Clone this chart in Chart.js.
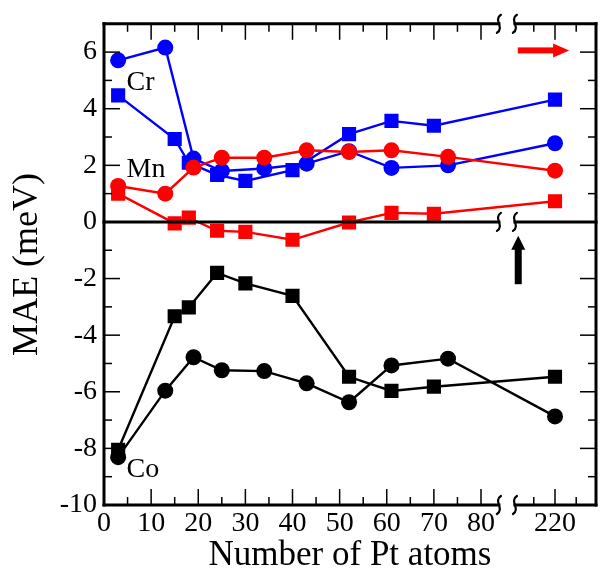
<!DOCTYPE html>
<html>
<head>
<meta charset="utf-8">
<script src="https://cdn.jsdelivr.net/npm/chart.js"></script>
<style>
  html, body { margin: 0; padding: 0; background: #fff; }
  #wrap { width: 606px; height: 573px; }
</style>
</head>
<body>
<div id="wrap"><canvas id="chartMAE"></canvas></div>
<script>
// Pt atom counts (the last one sits after the axis break)
const ptCircle = [3, 13, 19, 25, 34, 43, 52, 61, 73, 220];
const ptSquare = [3, 15, 18, 24, 30, 40, 52, 61, 70, 220];

// MAE (meV)
const crCircle = [5.71, 6.16, 2.24, 1.80, 1.89, 2.06, 2.50, 1.91, 2.00, 2.78];
const crSquare = [4.47, 2.93, 2.09, 1.66, 1.45, 1.83, 3.10, 3.57, 3.40, 4.32];
const mnCircle = [1.27, 1.00, 1.92, 2.27, 2.27, 2.53, 2.47, 2.53, 2.30, 1.81];
const mnSquare = [1.00, -0.05, 0.15, -0.31, -0.35, -0.63, -0.02, 0.32, 0.29, 0.73];
const coCircle = [-8.31, -5.96, -4.78, -5.24, -5.27, -5.70, -6.37, -5.07, -4.83, -6.87];
const coSquare = [-8.05, -3.33, -3.02, -1.80, -2.17, -2.61, -5.47, -5.97, -5.82, -5.47];

// tick labels
const xTickLabels = [0, 10, 20, 30, 40, 50, 60, 70, 80, 220];
const xMinorLabels = [5, 15, 25, 35, 45, 55, 65, 75, 210, 230];
const yTickLabels = [-10, -8, -6, -4, -2, 0, 2, 4, 6];

// broken x axis: 0..85 linear, then 220 placed near the right edge
const breakAt = 85.5;
function axisX(n) {
  return n <= breakAt ? n : 95.7 + (n - 220) * 0.45;
}

function pts(xs, ys) {
  return xs.map((x, i) => ({ x: axisX(x), y: ys[i] }));
}

function series(label, xs, ys, color, style, order) {
  return {
    label,
    data: pts(xs, ys),
    showLine: true,
    borderColor: color,
    backgroundColor: color,
    borderWidth: 2.4,
    pointStyle: style,
    pointRadius: style === 'rect' ? 10 : 8,
    pointHoverRadius: style === 'rect' ? 10 : 8,
    pointBorderWidth: 0,
    order
  };
}

const serif = "'Liberation Serif', 'DejaVu Serif', serif";

// frame, inward ticks, zero line, axis breaks, labels and arrows
const decor = {
  id: 'decor',
  afterDatasetsDraw(chart) {
    const { ctx, chartArea: a, scales: { x, y } } = chart;
    ctx.save();
    ctx.strokeStyle = '#000';
    ctx.fillStyle = '#000';

    // ticks
    ctx.lineWidth = 1.5;
    const tick = (x1, y1, x2, y2) => { ctx.beginPath(); ctx.moveTo(x1, y1); ctx.lineTo(x2, y2); ctx.stroke(); };
    xTickLabels.forEach(v => {
      const px = x.getPixelForValue(axisX(v));
      tick(px, a.bottom, px, a.bottom - 16);
      tick(px, a.top, px, a.top + 16);
    });
    xMinorLabels.forEach(v => {
      const px = x.getPixelForValue(axisX(v));
      tick(px, a.bottom, px, a.bottom - 8);
      tick(px, a.top, px, a.top + 8);
    });
    for (let v = -10; v <= 7; v++) {
      const py = y.getPixelForValue(v);
      const len = v % 2 === 0 ? 16 : 8;
      tick(a.left, py, a.left + len, py);
      tick(a.right, py, a.right - len, py);
    }

    // frame and zero line, each broken at the axis break
    const bx = x.getPixelForValue(breakAt);
    const gap = 8;
    const hline = (py, w) => {
      ctx.lineWidth = w;
      ctx.beginPath();
      ctx.moveTo(a.left, py); ctx.lineTo(bx - gap, py);
      ctx.moveTo(bx + gap, py); ctx.lineTo(a.right, py);
      ctx.stroke();
    };
    ctx.lineCap = 'square';
    hline(a.top, 3);
    hline(a.bottom, 3);
    hline(y.getPixelForValue(0), 3);
    ctx.lineWidth = 3;
    ctx.beginPath();
    ctx.moveTo(a.left, a.top); ctx.lineTo(a.left, a.bottom);
    ctx.moveTo(a.right, a.top); ctx.lineTo(a.right, a.bottom);
    ctx.stroke();

    // break squiggles
    ctx.lineCap = 'round';
    ctx.lineWidth = 2.2;
    const squiggle = (cx, cy) => {
      ctx.beginPath();
      ctx.moveTo(cx + 2, cy - 9);
      ctx.bezierCurveTo(cx - 6, cy - 4, cx + 6, cy + 4, cx - 2, cy + 9);
      ctx.stroke();
    };
    [a.top, y.getPixelForValue(0), a.bottom].forEach(py => {
      squiggle(bx - gap, py);
      squiggle(bx + gap, py);
    });

    // element labels
    ctx.font = '28px ' + serif;
    ctx.textBaseline = 'alphabetic';
    ctx.textAlign = 'left';
    const lx = x.getPixelForValue(4.8);
    ctx.fillText('Cr', lx, y.getPixelForValue(4.67));
    ctx.fillText('Mn', lx, y.getPixelForValue(1.58));
    ctx.fillText('Co', lx, y.getPixelForValue(-9.0));

    // red arrow (pointing right)
    const ry = y.getPixelForValue(6.06);
    const rx0 = x.getPixelForValue(87.8), rx1 = x.getPixelForValue(98.7);
    ctx.fillStyle = '#ff0000';
    ctx.fillRect(rx0, ry - 3, rx1 - rx0 - 14, 6);
    ctx.beginPath();
    ctx.moveTo(rx1, ry); ctx.lineTo(rx1 - 16, ry - 7); ctx.lineTo(rx1 - 16, ry + 7); ctx.closePath();
    ctx.fill();

    // black arrow (pointing up)
    const ax = x.getPixelForValue(87.9);
    const ay0 = y.getPixelForValue(-2.2), ay1 = y.getPixelForValue(-0.49);
    ctx.fillStyle = '#000';
    ctx.fillRect(ax - 3.5, ay1 + 13, 7, ay0 - ay1 - 13);
    ctx.beginPath();
    ctx.moveTo(ax, ay1); ctx.lineTo(ax - 7, ay1 + 14); ctx.lineTo(ax + 7, ay1 + 14); ctx.closePath();
    ctx.fill();

    ctx.restore();
  }
};

new Chart(document.getElementById('chartMAE'), {
  type: 'scatter',
  data: {
    datasets: [
      series('Cr circle', ptCircle, crCircle, '#0000ff', 'circle', 2),
      series('Cr square', ptSquare, crSquare, '#0000ff', 'rect', 2),
      series('Mn circle', ptCircle, mnCircle, '#ff0000', 'circle', 1),
      series('Mn square', ptSquare, mnSquare, '#ff0000', 'rect', 1),
      series('Co circle', ptCircle, coCircle, '#000000', 'circle', 0),
      series('Co square', ptSquare, coSquare, '#000000', 'rect', 0)
    ]
  },
  options: {
    responsive: true,
    maintainAspectRatio: false,
    animation: false,
    layout: { padding: { top: 18, right: 6, left: 0, bottom: 0 } },
    plugins: { legend: { display: false }, tooltip: { enabled: false } },
    scales: {
      x: {
        type: 'linear',
        min: 0,
        max: 104.4,
        grid: { display: false, drawTicks: false },
        border: { display: false },
        afterBuildTicks: s => { s.ticks = xTickLabels.map(v => ({ value: axisX(v) })); },
        afterFit: s => { s.height = 68; },
        ticks: {
          color: '#000',
          font: { family: serif, size: 28, lineHeight: 1 },
          padding: 5,
          maxRotation: 0,
          autoSkip: false,
          callback: (v, i) => String(xTickLabels[i])
        },
        title: {
          display: true,
          text: 'Number of Pt atoms',
          color: '#000',
          font: { family: serif, size: 35, lineHeight: 1 },
          padding: 0
        }
      },
      y: {
        min: -10,
        max: 7,
        grid: { display: false, drawTicks: false },
        border: { display: false },
        afterBuildTicks: s => { s.ticks = yTickLabels.map(v => ({ value: v })); },
        afterFit: s => { s.width = 104; },
        ticks: {
          color: '#000',
          font: { family: serif, size: 28 },
          padding: 7,
          autoSkip: false
        },
        title: {
          display: true,
          text: 'MAE (meV)',
          color: '#000',
          font: { family: serif, size: 36, lineHeight: 1 },
          padding: 10
        }
      }
    }
  },
  plugins: [decor]
});
</script>
</body>
</html>
